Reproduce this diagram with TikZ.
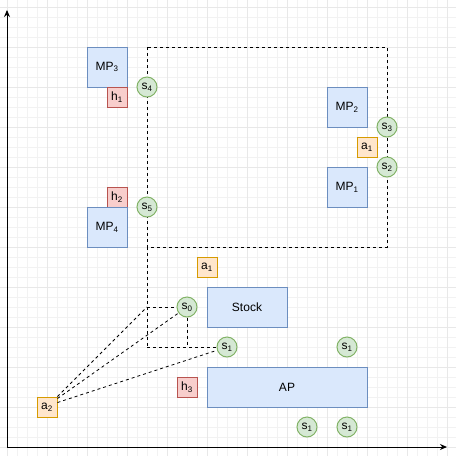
\documentclass[tikz,border=0pt]{standalone}
\usepackage{fontspec}
\setmainfont{Liberation Sans}
\usetikzlibrary{arrows.meta}

\definecolor{mpfill}{HTML}{DAE8FC}
\definecolor{mpline}{HTML}{6C8EBF}
\definecolor{hfill}{HTML}{F8CECC}
\definecolor{hline}{HTML}{B85450}
\definecolor{sfill}{HTML}{D5E8D4}
\definecolor{sline}{HTML}{82B366}
\definecolor{afill}{HTML}{FFE6CC}
\definecolor{aline}{HTML}{D79B00}

\tikzset{
  mp/.style={draw=mpline,fill=mpfill,line width=1pt,minimum width=40pt,minimum height=40pt,inner sep=0pt,font=\fontsize{12}{14}\selectfont},
  hb/.style={draw=hline,fill=hfill,line width=1pt,minimum size=20pt,inner sep=0pt,font=\fontsize{12}{14}\selectfont},
  ab/.style={draw=aline,fill=afill,line width=1pt,minimum size=20pt,inner sep=0pt,font=\fontsize{12}{14}\selectfont},
  sn/.style={circle,draw=sline,fill=sfill,line width=1pt,minimum size=20pt,inner sep=0pt,font=\fontsize{12}{14}\selectfont},
  dl/.style={line width=0.8pt,dash pattern=on 3pt off 3pt},
  axis/.style={line width=1pt,-{Stealth[length=7pt,width=6pt]}}
}

\begin{document}
\begin{tikzpicture}[x=1pt,y=-1pt]
\useasboundingbox (0,0) rectangle (456,456);
% grid
\foreach \i in {7,17,...,447} {
  \draw[black!5,line width=0.6pt] (\i,0) -- (\i,456);
  \draw[black!5,line width=0.6pt] (0,\i) -- (456,\i);
}
\foreach \i in {7,47,...,447} {
  \draw[black!9,line width=0.8pt] (\i,0) -- (\i,456);
  \draw[black!9,line width=0.8pt] (0,\i) -- (456,\i);
}
% axes
\coordinate (o) at (7,447);
\coordinate (ytop) at (7,10);
\coordinate (xend) at (447,447);
\draw[axis] (o) -- (ytop);
\draw[axis] (o) -- (xend);

% dashed region
\draw[dl] (147,47) rectangle (387,247);
\coordinate (c1) at (147,307);
\coordinate (c2) at (147,347);
\coordinate (c3) at (187,347);
\draw[dl] (147,247) -- (c2);

% boxes
\node[mp] (mp3) at (107,67) {MP\textsubscript{3}};
\node[hb] (h1) at (117,97) {h\textsubscript{1}};
\node[sn] (s4) at (147,87) {s\textsubscript{4}};
\node[mp] (mp2) at (347,107) {MP\textsubscript{2}};
\node[sn] (s3) at (387,127) {s\textsubscript{3}};
\node[ab] (a1) at (367,147) {a\textsubscript{1}};
\node[sn] (s2) at (387,167) {s\textsubscript{2}};
\node[mp] (mp1) at (347,187) {MP\textsubscript{1}};
\node[hb] (h2) at (117,197) {h\textsubscript{2}};
\node[sn] (s5) at (147,207) {s\textsubscript{5}};
\node[mp] (mp4) at (107,227) {MP\textsubscript{4}};
\node[ab] (a1b) at (207,267) {a\textsubscript{1}};
\node[mp,minimum width=80pt] (stock) at (247,307) {Stock};
\node[sn] (s0) at (187,307) {s\textsubscript{0}};
\node[sn] (s1) at (227,347) {s\textsubscript{1}};
\node[sn] (s1b) at (347,347) {s\textsubscript{1}};
\node[hb] (h3) at (187,387) {h\textsubscript{3}};
\node[mp,minimum width=160pt] (ap) at (287,387) {AP};
\node[sn] (s1c) at (307,427) {s\textsubscript{1}};
\node[sn] (s1d) at (347,427) {s\textsubscript{1}};
\node[ab] (a2) at (47,407) {a\textsubscript{2}};

% connectors
\draw[dl] (c1) -- (s0);
\draw[dl] (s0) -- (c3);
\draw[dl] (c2) -- (s1);
\draw[dl] (a2.north east) -- (c1);
\draw[dl] ([yshift=-2pt]a2.north east) -- (s0);
\draw[dl] ([yshift=-6pt]a2.north east) -- (s1);
\end{tikzpicture}
\end{document}
